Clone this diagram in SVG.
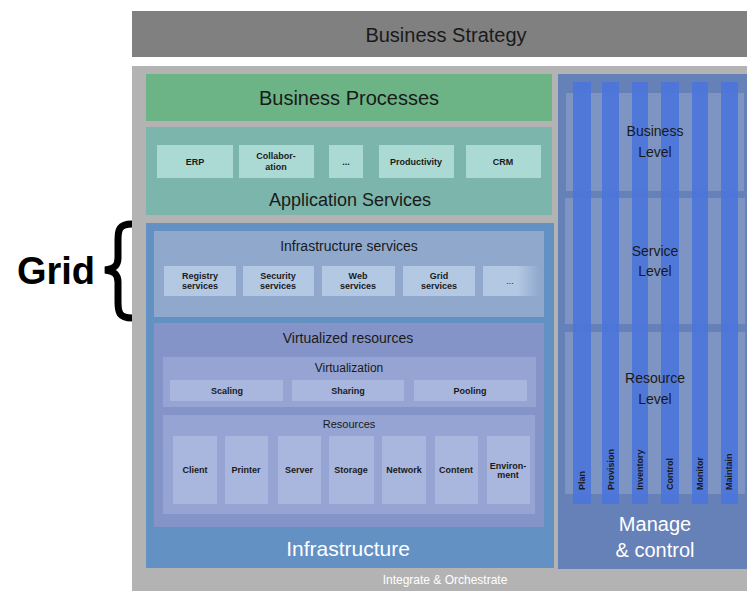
<svg xmlns="http://www.w3.org/2000/svg" width="747" height="591" viewBox="0 0 747 591">
<style>
text{font-family:"Liberation Sans",Arial,sans-serif;fill:#1a1a1a;text-anchor:middle}
.big{font-size:20px}
.mid{font-size:14px}
.sm{font-size:12px}
.tiny{font-size:9px;font-weight:bold}
.wh{fill:#ffffff}
.appItem{fill:#abd9d3}
.infItem{fill:#b3c8e3}
.virItem{fill:#a9b6de}
.stripe{fill:#4a74dc;fill-opacity:0.88}
.lvl{fill:#ffffff;fill-opacity:0.16}
</style>
<rect width="747" height="591" fill="#ffffff"/>
<g id="business-strategy">
<rect x="132" y="11" width="615" height="46" fill="#808080"/>
<text class="big" x="446" y="42">Business Strategy</text>
</g>
<g id="integrate-orchestrate">
<rect x="132" y="66" width="615" height="525" fill="#b3b3b3"/>
<text class="sm wh" x="445" y="584">Integrate &amp; Orchestrate</text>
</g>
<g id="business-processes">
<rect x="146" y="74" width="406" height="47" fill="#6cb386"/>
<text class="big" x="349" y="105">Business Processes</text>
</g>
<g id="application-services">
<rect x="146" y="127" width="406" height="88" fill="#7bb5ac"/>
<rect class="appItem" x="157" y="145" width="76" height="33"/>
<text class="tiny" x="195" y="165">ERP</text>
<rect class="appItem" x="239" y="145" width="75" height="33"/>
<text class="tiny" x="276" y="159">Collabor-</text>
<text class="tiny" x="276" y="170">ation</text>
<rect class="appItem" x="329" y="145" width="34" height="33"/>
<text class="tiny" x="346" y="165">...</text>
<rect class="appItem" x="379" y="145" width="75" height="33"/>
<text class="tiny" x="416" y="165">Productivity</text>
<rect class="appItem" x="466" y="145" width="75" height="33"/>
<text class="tiny" x="503" y="165">CRM</text>
<text style="font-size:18px" x="350" y="206">Application Services</text>
</g>
<g id="grid">
<text x="56" y="284" style="font-size:38px;font-weight:bold;fill:#000">Grid</text>
<path d="M132,224 C119,224 118,230 118,240 L118,258 C118,266 114,269 105,270 C114,271 118,274 118,282 L118,302 C118,312 119,318 132,318" fill="none" stroke="#000" stroke-width="7"/>
</g>
<g id="infrastructure">
<rect x="146" y="223" width="408" height="345" fill="#6491c4"/>
<text class="wh" style="font-size:21px" x="348" y="556">Infrastructure</text>
</g>
<g id="infrastructure-services">
<rect x="154" y="231" width="390" height="86" fill="#8fa8cc"/>
<text class="mid" x="349" y="251">Infrastructure services</text>
<rect class="infItem" x="164" y="266" width="72" height="30"/>
<text class="tiny" x="200" y="279">Registry</text>
<text class="tiny" x="200" y="289">services</text>
<rect class="infItem" x="243" y="266" width="71" height="30"/>
<text class="tiny" x="278" y="279">Security</text>
<text class="tiny" x="278" y="289">services</text>
<rect class="infItem" x="322" y="266" width="73" height="30"/>
<text class="tiny" x="358" y="279">Web</text>
<text class="tiny" x="358" y="289">services</text>
<rect class="infItem" x="403" y="266" width="72" height="30"/>
<text class="tiny" x="439" y="279">Grid</text>
<text class="tiny" x="439" y="289">services</text>
<defs>
<linearGradient id="fade" x1="0" y1="0" x2="1" y2="0">
<stop offset="0" stop-color="#b3c8e3"/>
<stop offset="0.6" stop-color="#b3c8e3"/>
<stop offset="1" stop-color="#8fa8cc"/>
</linearGradient>
</defs>
<rect x="483" y="266" width="57" height="30" fill="url(#fade)"/>
<text style="font-size:9px" x="510" y="284">...</text>
</g>
<g id="virtualized-resources">
<rect x="154" y="323" width="390" height="204" fill="#8594c8"/>
<text class="mid" x="348" y="343">Virtualized resources</text>
</g>
<g id="virtualization">
<rect x="163" y="357" width="373" height="50" fill="#95a4d2"/>
<text class="sm" x="349" y="372">Virtualization</text>
<rect class="virItem" x="170" y="380" width="113" height="21"/>
<text class="tiny" x="227" y="394">Scaling</text>
<rect class="virItem" x="292" y="380" width="112" height="21"/>
<text class="tiny" x="348" y="394">Sharing</text>
<rect class="virItem" x="414" y="380" width="113" height="21"/>
<text class="tiny" x="470" y="394">Pooling</text>
</g>
<g id="resources">
<rect x="163" y="415" width="372" height="99" fill="#95a4d2"/>
<text style="font-size:11px" x="349" y="428">Resources</text>
<rect class="virItem" x="173" y="436" width="44" height="68"/>
<text class="tiny" x="195" y="473">Client</text>
<rect class="virItem" x="225" y="436" width="43" height="68"/>
<text class="tiny" x="246" y="473">Printer</text>
<rect class="virItem" x="278" y="436" width="43" height="68"/>
<text class="tiny" x="299" y="473">Server</text>
<rect class="virItem" x="329" y="436" width="45" height="68"/>
<text class="tiny" x="351" y="473">Storage</text>
<rect class="virItem" x="382" y="436" width="44" height="68"/>
<text class="tiny" x="404" y="473">Network</text>
<rect class="virItem" x="435" y="436" width="43" height="68"/>
<text class="tiny" x="456" y="473">Content</text>
<rect class="virItem" x="487" y="436" width="43" height="68"/>
<text class="tiny" x="508" y="469">Environ-</text>
<text class="tiny" x="508" y="478">ment</text>
</g>
<g id="manage-control">
<rect x="558" y="74" width="189" height="495" fill="#6680b8"/>
<rect class="lvl" x="566" y="93" width="178" height="98"/>
<rect class="lvl" x="565" y="198" width="180" height="126"/>
<rect class="lvl" x="565" y="332" width="180" height="162"/>
<rect class="stripe" x="573" y="82" width="18" height="422"/>
<rect class="stripe" x="602" y="82" width="17" height="422"/>
<rect class="stripe" x="632" y="82" width="16" height="422"/>
<rect class="stripe" x="661" y="82" width="18" height="422"/>
<rect class="stripe" x="692" y="82" width="16" height="422"/>
<rect class="stripe" x="721" y="82" width="17" height="422"/>
<text class="mid" x="655" y="136">Business</text>
<text class="mid" x="655" y="157">Level</text>
<text class="mid" x="655" y="256">Service</text>
<text class="mid" x="655" y="276">Level</text>
<text class="mid" x="655" y="383">Resource</text>
<text class="mid" x="655" y="404">Level</text>
<text class="tiny" style="text-anchor:start" transform="translate(585,490) rotate(-90)">Plan</text>
<text class="tiny" style="text-anchor:start" transform="translate(614,490) rotate(-90)">Provision</text>
<text class="tiny" style="text-anchor:start" transform="translate(643,490) rotate(-90)">Inventory</text>
<text class="tiny" style="text-anchor:start" transform="translate(673,490) rotate(-90)">Control</text>
<text class="tiny" style="text-anchor:start" transform="translate(703,490) rotate(-90)">Monitor</text>
<text class="tiny" style="text-anchor:start" transform="translate(732,490) rotate(-90)">Maintain</text>
<text class="wh" style="font-size:20px" x="655" y="531">Manage</text>
<text class="wh" style="font-size:20px" x="655" y="557">&amp; control</text>
</g>
</svg>
